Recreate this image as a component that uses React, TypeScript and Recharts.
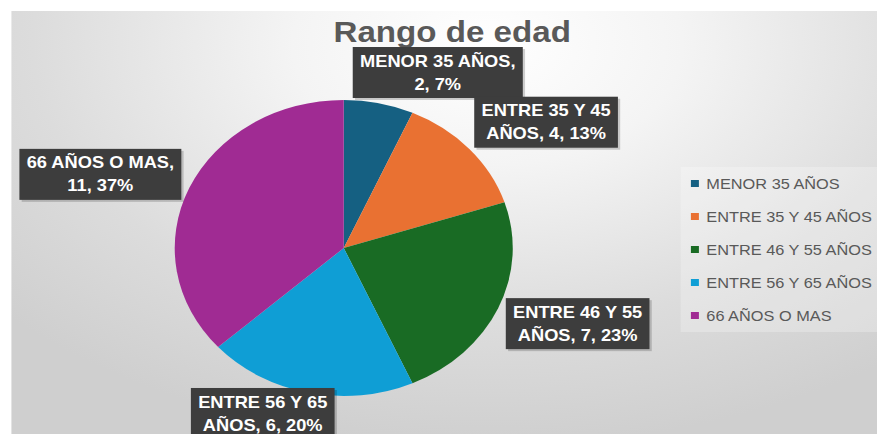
import { PieChart, Pie, Cell, Legend } from 'recharts';

const categories = [
  'MENOR 35 AÑOS',
  'ENTRE 35 Y 45 AÑOS',
  'ENTRE 46 Y 55 AÑOS',
  'ENTRE 56 Y 65 AÑOS',
  '66 AÑOS O MAS',
];
const counts = [2, 4, 7, 6, 11];
const COLORS = ['#156082', '#E97132', '#196B24', '#0F9ED5', '#A02B93'];

const data = categories.map((name, i) => ({ name, value: counts[i] }));

// the reference picture is stretched sideways, so draw narrow and scale
const SCALE_X = 1.142;
const W = 768;
const H = 434;
const FONT = '"Liberation Sans", Arial, sans-serif';

// small manual nudges, like the hand-placed labels in the original
const labelNudge = [
  [34, 4],
  [13, -3],
  [3, 1],
  [-25, -14],
  [-4, 1],
];

let ctx: CanvasRenderingContext2D | null = null;
const measure = (s: string) => {
  if (!ctx) ctx = document.createElement('canvas').getContext('2d');
  if (!ctx) return s.length * 9;
  ctx.font = `bold 16px ${FONT}`;
  return ctx.measureText(s).width;
};

const wrap = (s: string, max: number) => {
  const lines: string[] = [];
  let cur = '';
  s.split(' ').forEach((w) => {
    const next = cur ? `${cur} ${w}` : w;
    if (next.length > max && cur) {
      lines.push(cur);
      cur = w;
    } else cur = next;
  });
  if (cur) lines.push(cur);
  return lines;
};

const RAD = Math.PI / 180;

const renderLabel = (props: any) => {
  const { cx, cy, midAngle, outerRadius, percent, index, name, value } = props;
  const lines = wrap(`${name}, ${value}, ${Math.round(percent * 100)}%`, 14);
  const boxW = Math.max(...lines.map(measure)) + 12;
  const boxH = 51;
  const cos = Math.cos(-midAngle * RAD);
  const sin = Math.sin(-midAngle * RAD);
  const ax = cx + (outerRadius + 10) * cos;
  const ay = cy + (outerRadius + 10) * sin;
  const x = ax + cos * (boxW / 2) + labelNudge[index][0];
  const y = ay + sin * (boxH / 2) + labelNudge[index][1];
  return (
    <g key={`lbl-${index}`}>
      <rect x={x - boxW / 2 + 2} y={y - boxH / 2 + 2} width={boxW} height={boxH} fill="rgba(0,0,0,0.18)" />
      <rect x={x - boxW / 2} y={y - boxH / 2} width={boxW} height={boxH} fill="#3d3d3d" />
      {lines.map((l, i) => (
        <text
          key={i}
          x={x}
          y={y + (i - (lines.length - 1) / 2) * 23}
          textAnchor="middle"
          dominantBaseline="central"
          fill="#ffffff"
          style={{ fontFamily: FONT, fontSize: 16, fontWeight: 'bold' }}
        >
          {l}
        </text>
      ))}
    </g>
  );
};

const renderLegend = (props: any) => {
  const payload = [...(props.payload || [])].sort(
    (a: any, b: any) => categories.indexOf(a.value) - categories.indexOf(b.value),
  );
  return (
    <div style={{ background: 'rgba(255,255,255,0.25)', height: 165 }}>
      {payload.map((entry: any) => (
        <div
          key={entry.value}
          style={{ display: 'flex', alignItems: 'center', height: 33, fontFamily: FONT, fontSize: 14.3, color: '#595959' }}
        >
          <span style={{ width: 7, height: 7, background: entry.color, marginLeft: 9, marginRight: 7 }} />
          <span>{entry.value}</span>
        </div>
      ))}
    </div>
  );
};

const App = () => {
  return (
    <div
      style={{
        position: 'fixed',
        left: 0,
        top: 0,
        width: W,
        height: H,
        background: '#ffffff',
        transform: `scaleX(${SCALE_X})`,
        transformOrigin: '0 0',
        overflow: 'hidden',
      }}
    >
      <div
        style={{
          position: 'absolute',
          left: 9.6,
          top: 11,
          width: W - 9.6,
          height: H - 11,
          background: 'radial-gradient(ellipse 75% 95% at 55% 8%, #ffffff 0%, #f4f4f4 30%, #dcdcdc 70%, #cfcfcf 100%)',
        }}
      />
      <div
        style={{
          position: 'absolute',
          left: 196,
          top: 17.5,
          width: 400,
          textAlign: 'center',
          fontFamily: FONT,
          fontSize: 29,
          lineHeight: '29px',
          fontWeight: 'bold',
          color: '#595959',
        }}
      >
        Rango de edad
      </div>
      <div style={{ position: 'absolute', left: 0, top: 0 }}>
        <PieChart width={W} height={H} margin={{ top: 0, right: 0, bottom: 0, left: 0 }}>
          <Pie
            data={data}
            dataKey="value"
            nameKey="name"
            cx={301}
            cy={248}
            outerRadius={148}
            startAngle={90}
            endAngle={-270}
            stroke="none"
            labelLine={false}
            label={renderLabel}
            isAnimationActive={false}
          >
            {data.map((entry, index) => (
              <Cell key={entry.name} fill={COLORS[index % COLORS.length]} />
            ))}
          </Pie>
          <Legend
            layout="vertical"
            verticalAlign="middle"
            align="center"
            content={renderLegend}
            wrapperStyle={{ left: 595.5, top: 167, width: 173 }}
          />
        </PieChart>
      </div>
    </div>
  );
};

export default App;
